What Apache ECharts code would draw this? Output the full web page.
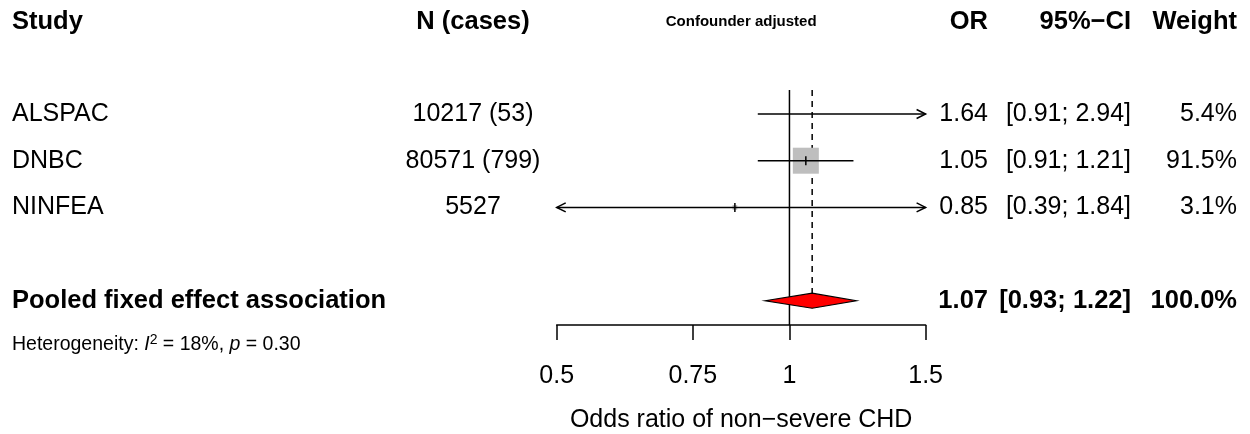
<!DOCTYPE html>
<html><head><meta charset="utf-8">
<script src="https://cdn.jsdelivr.net/npm/echarts@6.0.0/dist/echarts.min.js"></script>
<style>html,body{margin:0;padding:0;background:#fff}#c{width:1250px;height:434px}</style>
</head><body><div id="c"></div>
<script>
// ---- data ----
const headers = ['Study', 'N (cases)', 'Confounder adjusted', 'OR', '95%\u2212CI', 'Weight'];
const studies = ['ALSPAC', 'DNBC', 'NINFEA'];
const nCases = ['10217 (53)', '80571 (799)', '5527'];
const orVals = [1.64, 1.05, 0.85];
const ciLow = [0.91, 0.91, 0.39];
const ciHigh = [2.94, 1.21, 1.84];
const weights = [5.4, 91.5, 3.1];
const pooledLabel = 'Pooled fixed effect association';
const pooledOR = 1.07;
const pooledLow = 0.93;
const pooledHigh = 1.22;
const pooledWeight = 100.0;
const hetI2 = '18%';
const hetP = '0.30';
const tickValues = [0.5, 0.75, 1, 1.5];
const tickLabels = ['0.5', '0.75', '1', '1.5'];
const axisTitle = 'Odds ratio of non\u2212severe CHD';

// ---- layout ----
const W = 1250, H = 434;
const ROW0 = 20.7, ROWH = 46.67;
const rowToY = px => (px - ROW0) / ROWH;
const headerRow = rowToY(21.5);
const studyRows = [2, 3, 4];
const pooledRow = 6;
const hetRow = rowToY(345);
const plotLeft = 556.7, plotRight = 925.6, plotTop = 90, plotBottom = 325;
const FONT = "'Liberation Sans', Arial, Helvetica, sans-serif";
const FS = 25, FSB = 25.5;
const colStudy = 12, colN = 473, colConf = (plotLeft + plotRight) / 2, colOR = 988, colCI = 1131, colW = 1237;
const xMin = Math.log(tickValues[0]), xMax = Math.log(tickValues[tickValues.length - 1]);

const fmt2 = v => v.toFixed(2);
const ciText = (l, h) => '[' + fmt2(l) + '; ' + fmt2(h) + ']';

// text items
const texts = [];
const reg = FS + 'px ' + FONT, bold = 'bold ' + FSB + 'px ' + FONT;
headers.forEach((h, i) => {
  const xs = [colStudy, colN, colConf, colOR, colCI, colW];
  const al = ['left', 'center', 'center', 'right', 'right', 'right'];
  texts.push({ x: xs[i], row: headerRow, text: h, align: al[i], font: i === 2 ? 'bold 15px ' + FONT : bold });
});
studies.forEach((s, i) => {
  const r = studyRows[i];
  texts.push({ x: colStudy, row: r, text: s, align: 'left', font: reg });
  texts.push({ x: colN, row: r, text: nCases[i], align: 'center', font: reg });
  texts.push({ x: colOR, row: r, text: fmt2(orVals[i]), align: 'right', font: reg });
  texts.push({ x: colCI, row: r, text: ciText(ciLow[i], ciHigh[i]), align: 'right', font: reg });
  texts.push({ x: colW, row: r, text: weights[i].toFixed(1) + '%', align: 'right', font: reg });
});
texts.push({ x: colStudy, row: pooledRow, text: pooledLabel, align: 'left', font: bold });
texts.push({ x: colOR, row: pooledRow, text: fmt2(pooledOR), align: 'right', font: bold });
texts.push({ x: colCI, row: pooledRow, text: ciText(pooledLow, pooledHigh), align: 'right', font: bold });
texts.push({ x: colW, row: pooledRow, text: pooledWeight.toFixed(1) + '%', align: 'right', font: bold });
texts.push({
  x: colStudy, row: hetRow, align: 'left', font: '19.5px ' + FONT,
  text: 'Heterogeneity: {it|I}{sup|2} = ' + hetI2 + ', {it|p} = ' + hetP,
  rich: {
    it: { fontFamily: FONT, fontSize: 19.5, fontStyle: 'italic', fill: '#000' },
    sup: { fontFamily: FONT, fontSize: 14, verticalAlign: 'top', fill: '#000', padding: [0, 0, 10, 0] }
  }
});

const chart = echarts.init(document.getElementById('c'), null, { renderer: 'canvas' });

const studyData = studies.map((s, i) => [studyRows[i], orVals[i], ciLow[i], ciHigh[i], weights[i]]);
const maxW = Math.max.apply(null, weights);
const SQ = 26; // side of biggest square
const AL = 9, AW = 4.5; // arrow head size

chart.setOption({
  animation: false,
  backgroundColor: '#fff',
  grid: [
    { left: plotLeft, right: W - plotRight, top: plotTop, bottom: H - plotBottom, containLabel: false, outerBoundsMode: 'none' },
    { left: 0, right: 0, top: 0, bottom: 0, containLabel: false, outerBoundsMode: 'none' }
  ],
  xAxis: [
    {
      gridIndex: 0, type: 'value', min: xMin, max: xMax,
      axisLine: { show: true, lineStyle: { color: '#000', width: 1.5 } },
      axisTick: { show: true, length: 15, lineStyle: { color: '#000', width: 1.5 }, customValues: tickValues.map(Math.log) },
      axisLabel: {
        show: true, customValues: tickValues.map(Math.log), margin: 39, hideOverlap: false,
        color: '#000', fontSize: FS, fontFamily: FONT,
        formatter: v => { let bi = 0, bd = 1e9; tickValues.forEach((t, i) => { const d = Math.abs(Math.log(t) - v); if (d < bd) { bd = d; bi = i; } }); return tickLabels[bi]; }
      },
      splitLine: { show: false },
      name: axisTitle, nameLocation: 'middle', nameGap: 83,
      nameTextStyle: { color: '#000', fontSize: FS, fontFamily: FONT }
    },
    { gridIndex: 1, type: 'value', min: 0, max: W, show: false }
  ],
  yAxis: [
    { gridIndex: 0, type: 'value', inverse: true, min: rowToY(plotTop), max: rowToY(plotBottom), show: false },
    { gridIndex: 1, type: 'value', inverse: true, min: rowToY(0), max: rowToY(H), show: false }
  ],
  series: [
    { // reference line at OR = 1
      type: 'custom', xAxisIndex: 0, yAxisIndex: 0, silent: true, clip: false,
      data: [[0]],
      renderItem: (params, api) => {
        const cs = params.coordSys;
        const x = api.coord([api.value(0), rowToY(plotTop)])[0];
        return { type: 'line', shape: { x1: x, y1: cs.y, x2: x, y2: cs.y + cs.height }, style: { stroke: '#000', lineWidth: 1.5 } };
      }
    },
    { // dashed pooled line
      type: 'custom', xAxisIndex: 0, yAxisIndex: 0, silent: true, clip: false,
      data: [[Math.log(pooledOR), pooledRow]],
      renderItem: (params, api) => {
        const cs = params.coordSys;
        const p = api.coord([api.value(0), api.value(1)]);
        return { type: 'line', shape: { x1: p[0], y1: cs.y, x2: p[0], y2: p[1] - 7.5 }, style: { stroke: '#000', lineWidth: 1.5, lineDash: [6, 5] } };
      }
    },
    { // study CIs
      type: 'custom', xAxisIndex: 0, yAxisIndex: 0, silent: true, clip: false,
      data: studyData,
      renderItem: (params, api) => {
        const row = api.value(0), or = api.value(1), lo = api.value(2), hi = api.value(3), w = api.value(4);
        const ll = Math.max(Math.log(lo), xMin), hh = Math.min(Math.log(hi), xMax);
        const p1 = api.coord([ll, row]), p2 = api.coord([hh, row]);
        const y = p1[1];
        const ch = [];
        const lor = Math.log(or);
        const inRange = lor >= xMin && lor <= xMax;
        if (inRange) {
          const pc = api.coord([lor, row]);
          const s = SQ * Math.sqrt(w / maxW);
          ch.push({ type: 'rect', shape: { x: pc[0] - s / 2, y: y - s / 2, width: s, height: s }, style: { fill: '#BEBEBE' } });
        }
        ch.push({ type: 'line', shape: { x1: p1[0], y1: y, x2: p2[0], y2: y }, style: { stroke: '#000', lineWidth: 1.5 } });
        if (Math.log(lo) < xMin) ch.push({ type: 'polyline', shape: { points: [[p1[0] + AL, y - AW], [p1[0], y], [p1[0] + AL, y + AW]] }, style: { stroke: '#000', lineWidth: 1.5, fill: null } });
        if (Math.log(hi) > xMax) ch.push({ type: 'polyline', shape: { points: [[p2[0] - AL, y - AW], [p2[0], y], [p2[0] - AL, y + AW]] }, style: { stroke: '#000', lineWidth: 1.5, fill: null } });
        if (inRange) {
          const pc = api.coord([lor, row]);
          ch.push({ type: 'line', shape: { x1: pc[0], y1: y - 4.5, x2: pc[0], y2: y + 4.5 }, style: { stroke: '#000', lineWidth: 1.5 } });
        }
        return { type: 'group', children: ch };
      }
    },
    { // pooled diamond
      type: 'custom', xAxisIndex: 0, yAxisIndex: 0, silent: true, clip: false,
      data: [[pooledRow, pooledOR, pooledLow, pooledHigh]],
      renderItem: (params, api) => {
        const row = api.value(0);
        const pl = api.coord([Math.log(api.value(2)), row]);
        const pc = api.coord([Math.log(api.value(1)), row]);
        const ph = api.coord([Math.log(api.value(3)), row]);
        const hh = 7.5;
        return { type: 'polygon', shape: { points: [[pl[0], pl[1]], [pc[0], pc[1] - hh], [ph[0], ph[1]], [pc[0], pc[1] + hh]] }, style: { fill: '#FF0000', stroke: '#000', lineWidth: 1.2 } };
      }
    },
    { // table text
      type: 'custom', xAxisIndex: 1, yAxisIndex: 1, silent: true, clip: false,
      data: texts.map((t, i) => [t.x, t.row, i]),
      renderItem: (params, api) => {
        const t = texts[api.value(2)];
        const p = api.coord([api.value(0), api.value(1)]);
        const style = { text: t.text, font: t.font, fill: '#000', textFill: '#000', align: t.align, textAlign: t.align, verticalAlign: 'middle', textVerticalAlign: 'middle' };
        if (t.rich) style.rich = t.rich;
        return { type: 'text', x: p[0], y: p[1], style: style };
      }
    }
  ]
});
</script></body></html>
